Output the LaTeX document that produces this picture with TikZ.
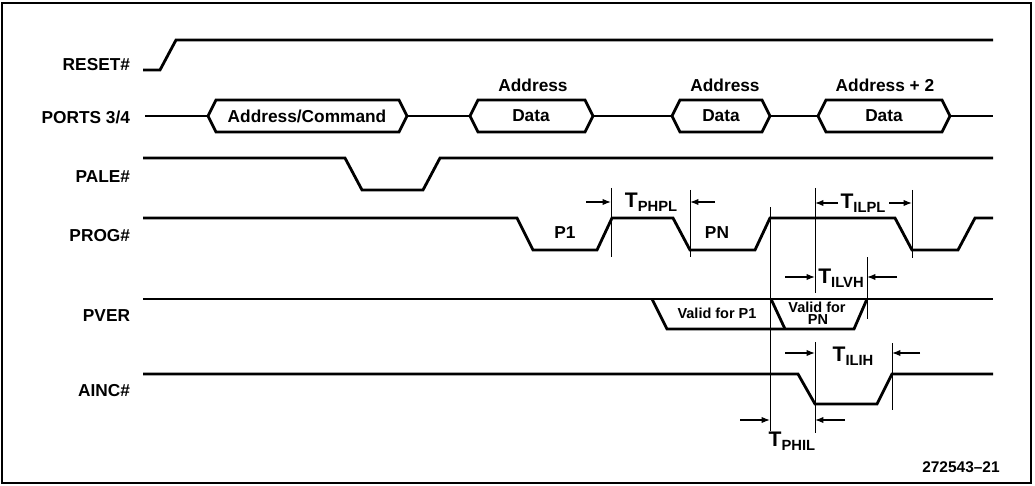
\documentclass[tikz,border=0pt]{standalone}
\usepackage{fontspec}
\setmainfont{Liberation Sans}
\usetikzlibrary{arrows.meta}
\newcommand{\tparam}[1]{{\bfseries\fontsize{15}{15}\selectfont T}\raisebox{-3pt}{\bfseries\fontsize{10.5}{11}\selectfont #1}}

\begin{document}
\begin{tikzpicture}[x=0.025cm,y=-0.025cm,
	sig/.style={line width=2pt},
	repere/.style={line width=0.7pt},
	cote/.style={line width=0.8pt,-{Latex[length=6pt,width=4.5pt]}},
	nom/.style={anchor=east,font=\bfseries\fontsize{12.3}{14}\selectfont},
	txt/.style={font=\bfseries\fontsize{12.3}{14}\selectfont},
	petit/.style={font=\bfseries\fontsize{10.3}{11}\selectfont,inner sep=0pt}]
	\useasboundingbox (0,0) rectangle (1035,486);
	\draw[line width=1pt] (2,3) rectangle (1031,483);

	% noms des signaux
	\node[nom] (reset) at (135,65) {RESET\#};
	\node[nom] (ports) at (135,117) {PORTS 3/4};
	\node[nom] (pale) at (135,177) {PALE\#};
	\node[nom] (prog) at (135,236) {PROG\#};
	\node[nom] (pver) at (135,316) {PVER};
	\node[nom] (ainc) at (135,391) {AINC\#};

	% RESET#
	\draw[sig] (143,70) -- (160,70) -- (176,40) -- (993,40);

	% PORTS 3/4
	\foreach \a/\b in {208/407,470/593,672/770,818/950}
		\draw[sig] (\a,116) -- (\a+8,100) -- (\b-8,100) -- (\b,116) -- (\b-8,132) -- (\a+8,132) -- cycle;
	\draw[sig] (145,116) -- (208,116) (407,116) -- (470,116) (593,116) -- (672,116) (770,116) -- (818,116) (950,116) -- (993,116);
	\node[txt] (cmd) at (307,116) {Address/Command};
	\node[txt] (d1) at (531,116) {Data};
	\node[txt] (d2) at (721,116) {Data};
	\node[txt] (d3) at (884,116) {Data};
	\node[txt] (a1) at (533,85) {Address};
	\node[txt] (a2) at (725,85) {Address};
	\node[txt] (a3) at (885,85) {Address + 2};

	% PALE#
	\draw[sig] (143,158) -- (345,158) -- (362,190) -- (423,190) -- (440,158) -- (993,158);

	% PROG#
	\draw[sig] (143,218) -- (517,218) -- (533,250) -- (597,250) -- (612,218) -- (673,218) -- (690,250) -- (755,250) -- (770,218)
		-- (895,218) -- (912,250) -- (958,250) -- (975,218) -- (993,218);
	\node[txt] (p1) at (565,233) {P1};
	\node[txt] (pn) at (717,233) {PN};

	% PVER
	\draw[sig] (143,299) -- (993,299);
	\draw[sig] (652,299) -- (667,329) -- (854,329) -- (867,299);
	\draw[sig] (771,299) -- (785,329);
	\node[petit] (v1) at (717,313) {Valid for P1};
	\node[petit] (v2) at (817,307) {Valid for};
	\node[petit] (v3) at (818,320) {PN};

	% AINC#
	\draw[sig] (143,374) -- (798,374) -- (815,404) -- (877,404) -- (892,374) -- (993,374);

	% reperes verticaux
	\draw[repere] (611,188) -- (611,257);
	\draw[repere] (690,190) -- (690,257);
	\draw[repere] (770,207) -- (770,431);
	\draw[repere] (815,188) -- (815,293);
	\draw[repere] (815,342) -- (815,433);
	\draw[repere] (912,190) -- (912,258);
	\draw[repere] (867,257) -- (867,319);
	\draw[repere] (892,343) -- (892,410);

	% cotes
	\draw[cote] (586,202) -- (611,202);
	\draw[cote] (715,202) -- (690,202);
	\node (tphpl) at (651,202) {\tparam{PHPL}};

	\draw[cote] (838,203) -- (815,203);
	\draw[cote] (889,203) -- (912,203);
	\node (tilpl) at (863,203) {\tparam{ILPL}};

	\draw[cote] (785,277) -- (815,277);
	\draw[cote] (897,277) -- (867,277);
	\node (tilvh) at (841,278) {\tparam{ILVH}};

	\draw[cote] (785,353) -- (815,353);
	\draw[cote] (920,353) -- (892,353);
	\node (tilih) at (853,356) {\tparam{ILIH}};

	\draw[cote] (740,420) -- (770,420);
	\draw[cote] (845,420) -- (815,420);
	\node (tphil) at (792,441) {\tparam{PHIL}};

	\node[font=\bfseries\fontsize{11}{12}\selectfont] (fig) at (961,467) {272543--21};
\end{tikzpicture}
\end{document}
